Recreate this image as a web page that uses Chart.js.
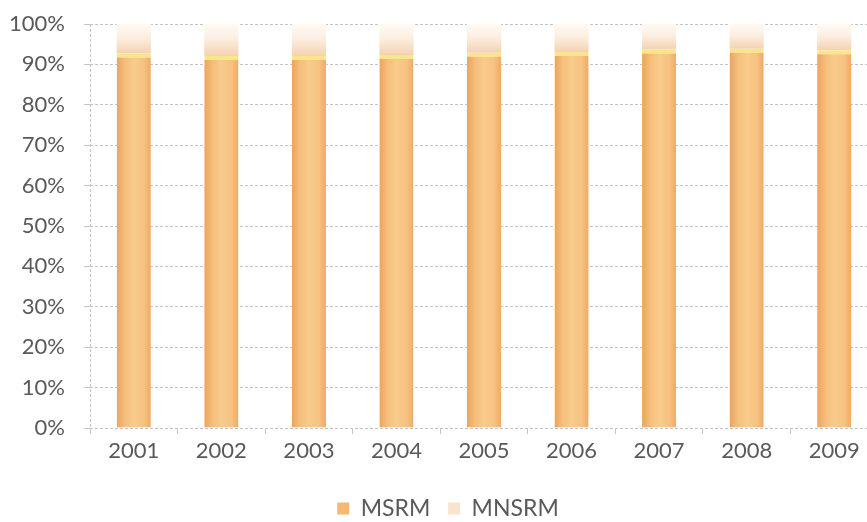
<!DOCTYPE html>
<html>
<head>
<meta charset="utf-8">
<script src="https://cdn.jsdelivr.net/npm/chart.js@4.4.1/dist/chart.umd.min.js"></script>
<style>
  html, body { margin: 0; padding: 0; background: #fff; overflow: hidden; }
  #wrap { width: 880px; height: 522px; }
</style>
</head>
<body>
<div id="wrap"><canvas id="chart" width="880" height="522"></canvas></div>
<script>
const years = ['2001', '2002', '2003', '2004', '2005', '2006', '2007', '2008', '2009'];
const msrm = [92.7, 92.1, 92.1, 92.3, 92.9, 93.1, 93.7, 93.9, 93.5];
const mnsrm = [7.3, 7.9, 7.9, 7.7, 7.1, 6.9, 6.3, 6.1, 6.5];
const yTicks = [0, 10, 20, 30, 40, 50, 60, 70, 80, 90, 100];

const BAR_PCT = 0.39;
const textColor = '#595959';
const gridColor = '#c4c4c4';

// horizontal shading across one bar, like the office-style cylinder fill
function barShade(ctx, stops) {
  const chart = ctx.chart;
  const x = chart.scales && chart.scales.x;
  if (!x || ctx.type !== 'data' || !x.width) return stops[2][1];
  const cx = x.getPixelForValue(ctx.dataIndex);
  const half = (x.width / years.length) * BAR_PCT / 2;
  const g = chart.ctx.createLinearGradient(cx - half, 0, cx + half, 0);
  stops.forEach(s => g.addColorStop(s[0], s[1]));
  return g;
}

// top segment fades from cream at 100% to peach at its base
function capShade(ctx) {
  const chart = ctx.chart;
  const y = chart.scales && chart.scales.y;
  if (!y || ctx.type !== 'data' || !y.height) return '#fbe8d4';
  const top = y.getPixelForValue(100);
  const base = y.getPixelForValue(msrm[ctx.dataIndex]);
  const g = chart.ctx.createLinearGradient(0, top, 0, base);
  g.addColorStop(0, '#fffaf3');
  g.addColorStop(0.45, '#fcefe1');
  g.addColorStop(1, '#f4d2b0');
  return g;
}

const msrmStops = [[0, '#eea35c'], [0.25, '#f5bf7c'], [0.5, '#f8cb8c'], [0.8, '#f6c282'], [1, '#f0aa63']];

// the left padding only nudges the legend; let the y labels use that strip too
const widenYLabels = {
  id: 'widenYLabels',
  afterLayout: chart => { chart.scales.y.left = 0; }
};

new Chart(document.getElementById('chart'), {
  type: 'bar',
  data: {
    labels: years,
    datasets: [{
      label: 'MSRM',
      data: msrm,
      backgroundColor: ctx => barShade(ctx, msrmStops),
      borderColor: '#fae68a',
      borderWidth: { top: 4, left: 0, right: 0, bottom: 0 },
      borderSkipped: false,
      categoryPercentage: 1,
      barPercentage: BAR_PCT
    }, {
      label: 'MNSRM',
      data: mnsrm,
      backgroundColor: capShade,
      borderWidth: 0,
      categoryPercentage: 1,
      barPercentage: BAR_PCT
    }]
  },
  plugins: [widenYLabels],
  options: {
    responsive: false,
    animation: false,
    layout: { padding: { top: 24, right: 2, left: 18, bottom: -8 } },
    scales: {
      x: {
        stacked: true,
        grid: {
          offset: true,
          color: ctx => ctx.index === 0 ? gridColor : 'rgba(0,0,0,0)',
          tickColor: gridColor,
          tickLength: 6
        },
        border: { display: false, dash: [3, 2] },
        ticks: { color: textColor, font: { family: 'Lato', size: 22 }, padding: 4 },
        afterFit: scale => { scale.height = 63; }
      },
      y: {
        stacked: true,
        min: 0,
        max: 100,
        afterBuildTicks: scale => { scale.ticks = yTicks.map(v => ({ value: v })); },
        grid: { color: gridColor, tickColor: gridColor, tickLength: 6 },
        border: { display: false, dash: [3, 2] },
        ticks: {
          color: textColor,
          font: { family: 'Lato', size: 22 },
          padding: 19,
          callback: v => v + '%'
        },
        afterFit: scale => {
          scale.width = 72;
          scale.paddingTop = 0;
          scale.paddingBottom = 0;
        }
      }
    },
    plugins: {
      tooltip: { enabled: false },
      legend: {
        position: 'bottom',
        labels: {
          color: textColor,
          font: { family: 'Lato', size: 23 },
          boxWidth: 12,
          boxHeight: 12,
          padding: 6,
          generateLabels: chart => {
            const solid = ['#f3b873', '#f9e4cf'];
            return Chart.defaults.plugins.legend.labels.generateLabels(chart).map((item, i) => {
              item.fillStyle = solid[i];
              item.strokeStyle = solid[i];
              item.lineWidth = 0;
              if (i === 0) item.text += '  ';
              return item;
            });
          }
        }
      }
    }
  }
});
</script>
</body>
</html>
